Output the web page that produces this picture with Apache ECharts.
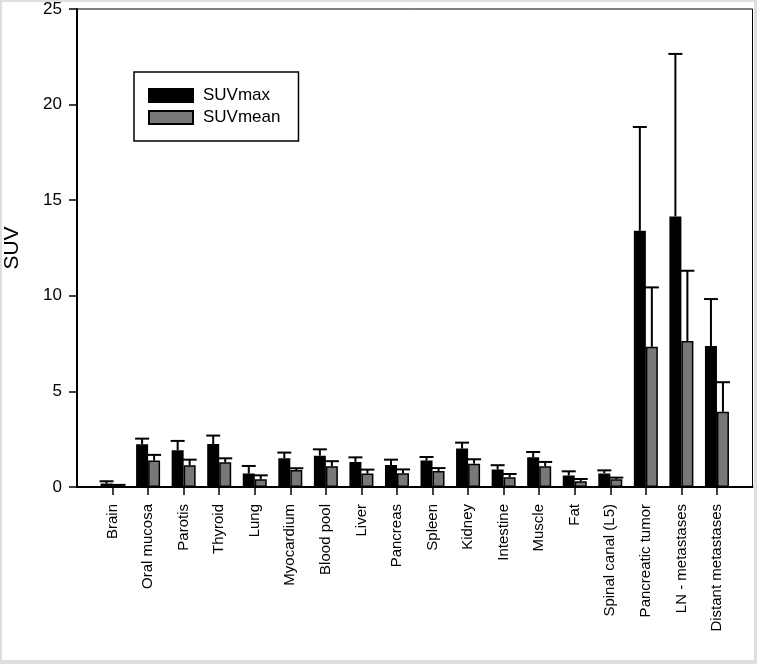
<!DOCTYPE html>
<html>
<head>
<meta charset="utf-8">
<script src="https://cdn.jsdelivr.net/npm/echarts@6/dist/echarts.min.js"></script>
<style>
  html, body { margin: 0; padding: 0; background: #dedede; }
  #main { position: absolute; left: 2px; top: 2px; width: 752px; height: 658px; background: #fff; }
</style>
</head>
<body>
<div id="main"></div>
<script>
// organ / lesion names on the x axis
var categories = ['Brain', 'Oral mucosa', 'Parotis', 'Thyroid', 'Lung', 'Myocardium', 'Blood pool',
    'Liver', 'Pancreas', 'Spleen', 'Kidney', 'Intestine', 'Muscle', 'Fat', 'Spinal canal (L5)',
    'Pancreatic tumor', 'LN - metastases', 'Distant metastases'];
var suvMax    = [0.18, 2.23, 1.92, 2.25, 0.70, 1.50, 1.64, 1.31, 1.15, 1.38, 2.01, 0.91, 1.55, 0.60, 0.71, 13.40, 14.15, 7.37];
var suvMaxSd  = [0.12, 0.30, 0.49, 0.44, 0.40, 0.30, 0.33, 0.24, 0.28, 0.19, 0.31, 0.23, 0.28, 0.22, 0.16, 5.43, 8.50, 2.46];
var suvMean   = [0.08, 1.38, 1.14, 1.29, 0.40, 0.89, 1.08, 0.70, 0.72, 0.84, 1.22, 0.51, 1.08, 0.30, 0.40, 7.33, 7.63, 3.93];
var suvMeanSd = [0.03, 0.30, 0.29, 0.21, 0.21, 0.09, 0.27, 0.21, 0.20, 0.15, 0.23, 0.17, 0.23, 0.12, 0.09, 3.11, 3.68, 1.55];
var yTicks = [0, 5, 10, 15, 20, 25];

var font = 'Liberation Sans, Arial, sans-serif';
var barW = 12;

// empty slot on each side, like the original plot
var axisCats = [''].concat(categories, ['']);
function pad(arr) { return [null].concat(arr, [null]); }
function errData(vals, sds) {
    return vals.map(function (v, i) { return [i + 1, v, sds[i]]; });
}

function errRender(side) {
    return function (params, api) {
        var x = api.value(0), v = api.value(1), e = api.value(2);
        var base = api.coord([x, v]);
        var top = api.coord([x, v + e]);
        var cx = base[0] + side * barW / 2;
        return {
            type: 'group',
            children: [
                { type: 'line', shape: { x1: cx, y1: base[1], x2: cx, y2: top[1] }, style: { stroke: '#000', lineWidth: 2 } },
                { type: 'line', shape: { x1: cx - 7, y1: top[1], x2: cx + 7, y2: top[1] }, style: { stroke: '#000', lineWidth: 2 } }
            ]
        };
    };
}

var chart = echarts.init(document.getElementById('main'));
var option = {
    animation: false,
    textStyle: { fontFamily: font },
    grid: {
        left: 75, top: 7, right: 1.5, bottom: 173,
        outerBoundsMode: 'none', containLabel: false,
        show: true, borderColor: '#000', borderWidth: 1
    },
    legend: {
        orient: 'vertical',
        left: 132, top: 70,
        data: ['SUVmax', 'SUVmean'],
        selectedMode: false,
        icon: 'rect',
        itemWidth: 44, itemHeight: 13, itemGap: 5,
        padding: [15, 18, 15, 14],
        borderColor: '#000', borderWidth: 1.5,
        textStyle: { fontSize: 17, color: '#000', fontFamily: font, padding: [0, 0, 0, 5] }
    },
    xAxis: {
        type: 'category',
        data: axisCats,
        boundaryGap: false,
        axisLine: { lineStyle: { color: '#000', width: 2 } },
        axisTick: {
            length: 8,
            lineStyle: { color: '#000', width: 1.5 },
            interval: function (idx) { return idx > 0 && idx < axisCats.length - 1; }
        },
        axisLabel: { rotate: 90, interval: 0, fontSize: 15, color: '#000', margin: 17, fontFamily: font },
        splitLine: { show: false }
    },
    yAxis: {
        type: 'value',
        min: yTicks[0], max: yTicks[yTicks.length - 1], interval: 5,
        name: 'SUV', nameLocation: 'middle', nameGap: 54, nameRotate: 90,
        nameTextStyle: { fontSize: 21, color: '#000', fontFamily: font },
        axisLine: { show: true, lineStyle: { color: '#000', width: 2 } },
        axisTick: { show: true, length: 8, lineStyle: { color: '#000', width: 1.5 } },
        axisLabel: { fontSize: 17, color: '#000', margin: 15, fontFamily: font },
        splitLine: { show: false }
    },
    series: [
        {
            name: 'SUVmax', type: 'bar', data: pad(suvMax),
            barWidth: barW, barGap: '0%',
            itemStyle: { color: '#000', borderColor: '#000', borderWidth: 1.5 }
        },
        {
            name: 'SUVmean', type: 'bar', data: pad(suvMean),
            barWidth: barW, barGap: '0%',
            itemStyle: { color: '#787878', borderColor: '#000', borderWidth: 1.5 }
        },
        { type: 'custom', renderItem: errRender(-1), data: errData(suvMax, suvMaxSd), z: 5, silent: true },
        { type: 'custom', renderItem: errRender(1), data: errData(suvMean, suvMeanSd), z: 5, silent: true }
    ]
};
chart.setOption(option);
</script>
</body>
</html>
